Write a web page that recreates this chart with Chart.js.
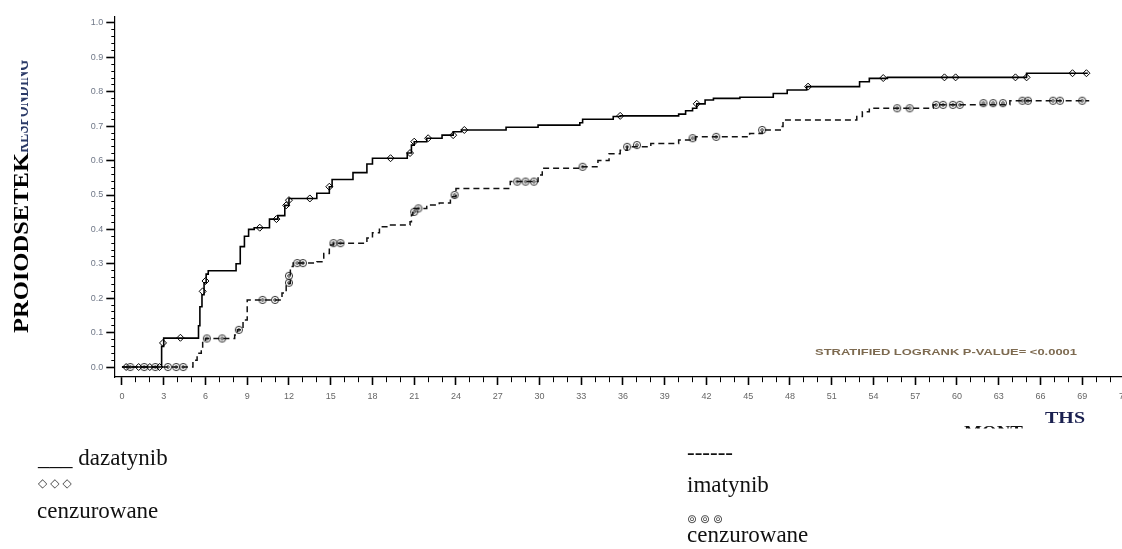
<!DOCTYPE html>
<html><head><meta charset="utf-8">
<script src="https://cdn.jsdelivr.net/npm/chart.js@4.4.0/dist/chart.umd.min.js"></script>
<style>
html,body{margin:0;padding:0;background:#fff;overflow:hidden;width:1122px;height:549px;}
#wrap{position:absolute;left:0;top:0;width:1150px;height:549px;}
.lg{position:absolute;font-family:"Liberation Serif","Times New Roman",serif;font-size:23px;color:#111;white-space:nowrap;line-height:1;}
.sym{position:absolute;font-family:"DejaVu Sans",sans-serif;font-size:12px;color:#444;letter-spacing:3px;white-space:nowrap;line-height:1;}
</style></head><body>
<div id="wrap"><canvas id="c" width="1150" height="549"></canvas></div>
<div class="lg" style="left:38px;top:446px">___ dazatynib</div>
<div class="sym" style="left:38px;top:477px">◇◇◇</div>
<div class="lg" style="left:37px;top:499px">cenzurowane</div>
<div class="lg" style="left:687px;top:441px">------</div>
<div class="lg" style="left:687px;top:473px">imatynib</div>
<div class="sym" style="left:687px;top:513px">⊚⊚⊚</div>
<div class="lg" style="left:687px;top:523px">cenzurowane</div>
<script>
// ---- data ----
const dazaT = [0, 2.85, 3.0, 5.5, 5.6, 5.75, 5.9, 6.05, 6.2, 8.2, 8.5, 8.8, 9.1, 9.5, 10.6, 11.2, 11.7, 12.0, 14.0, 14.9, 15.1, 16.6, 17.6, 18.0, 20.5, 20.8, 21.0, 21.9, 23.0, 23.8, 24.4, 27.6, 29.9, 32.9, 33.1, 35.3, 35.8, 40.0, 40.5, 41.0, 41.3, 41.9, 42.5, 44.4, 46.8, 47.8, 49.2, 53.0, 53.7, 55.0, 65.0, 69.4];
const dazaS = [0, 0.06, 0.084, 0.12, 0.175, 0.21, 0.245, 0.27, 0.28, 0.30, 0.35, 0.38, 0.40, 0.405, 0.43, 0.44, 0.47, 0.49, 0.505, 0.524, 0.545, 0.565, 0.59, 0.607, 0.622, 0.645, 0.655, 0.665, 0.674, 0.684, 0.689, 0.697, 0.703, 0.710, 0.72, 0.728, 0.73, 0.735, 0.745, 0.752, 0.765, 0.776, 0.781, 0.784, 0.795, 0.805, 0.815, 0.829, 0.839, 0.842, 0.854, 0.854];
const imaT = [0, 5.1, 5.4, 5.7, 5.8, 6.0, 8.1, 8.3, 8.7, 9.0, 11.5, 11.8, 12.1, 12.3, 14.0, 14.5, 14.9, 15.2, 17.6, 18.0, 18.5, 19.3, 20.7, 20.8, 20.9, 21.9, 22.8, 23.6, 24.0, 27.9, 29.9, 30.2, 33.0, 34.2, 35.0, 35.8, 36.3, 38.0, 40.0, 41.2, 45.1, 46.0, 47.3, 47.5, 52.8, 53.2, 53.7, 58.3, 63.8, 69.5];
const imaS = [0, 0.02, 0.04, 0.05, 0.078, 0.083, 0.093, 0.108, 0.137, 0.195, 0.215, 0.243, 0.292, 0.302, 0.306, 0.33, 0.355, 0.36, 0.375, 0.39, 0.408, 0.413, 0.422, 0.442, 0.461, 0.471, 0.477, 0.495, 0.519, 0.539, 0.558, 0.578, 0.582, 0.60, 0.62, 0.63, 0.64, 0.65, 0.66, 0.669, 0.679, 0.689, 0.699, 0.718, 0.728, 0.742, 0.752, 0.762, 0.774, 0.774];
const dazaCensT = [0.3, 1.2, 2.0, 2.7, 2.95, 4.2, 5.8, 6.0, 9.9, 11.1, 11.8, 12.0, 13.5, 14.9, 19.3, 20.7, 21.0, 22.0, 23.8, 24.6, 35.8, 41.3, 49.3, 54.7, 59.1, 59.9, 64.2, 65.0, 68.3, 69.3];
const dazaCensS = [0, 0, 0, 0, 0.07, 0.085, 0.22, 0.25, 0.405, 0.43, 0.47, 0.485, 0.49, 0.524, 0.607, 0.622, 0.655, 0.665, 0.674, 0.689, 0.73, 0.765, 0.815, 0.84, 0.842, 0.842, 0.842, 0.842, 0.854, 0.854];
const imaCensT = [0.6, 1.6, 2.4, 3.3, 3.9, 4.4, 6.1, 7.2, 8.4, 10.1, 11.0, 12.0, 12.0, 12.6, 13.0, 15.2, 15.7, 21.0, 21.3, 23.9, 28.4, 29.0, 29.6, 33.1, 36.3, 37.0, 41.0, 42.7, 46.0, 55.7, 56.6, 58.5, 59.0, 59.7, 60.2, 61.9, 62.6, 63.3, 64.7, 65.1, 66.9, 67.4, 69.0];
const imaCensS = [0, 0, 0, 0, 0, 0, 0.083, 0.083, 0.108, 0.195, 0.195, 0.245, 0.265, 0.302, 0.302, 0.36, 0.36, 0.451, 0.461, 0.5, 0.539, 0.539, 0.539, 0.582, 0.64, 0.645, 0.665, 0.669, 0.689, 0.752, 0.752, 0.762, 0.762, 0.762, 0.762, 0.767, 0.767, 0.767, 0.774, 0.774, 0.774, 0.774, 0.774];
const xTickLabels = [0, 3, 6, 9, 12, 15, 18, 21, 24, 27, 30, 33, 36, 39, 42, 45, 48, 51, 54, 57, 60, 63, 66, 69, 72];
const yTickLabels = [0.0, 0.1, 0.2, 0.3, 0.4, 0.5, 0.6, 0.7, 0.8, 0.9, 1.0];
const pText = "STRATIFIED LOGRANK P-VALUE= <0.0001";
const yTitle = "PROIODSETEK";
const yTitleHidden = "RESPONDING";
const xTitle = "THS";
const xTitleHidden = "- MONT";

// ---- helpers ----
const pts = (t, s) => t.map((v, i) => ({x: v, y: s[i]}));
const xMinor = []; for (let m = 0; m <= 72; m++) xMinor.push(m);
const yMinor = []; for (let k = 0; k <= 50; k++) yMinor.push(Math.round(k * 2) / 100);
const isMajX = v => xTickLabels.includes(v);
const isMajY = v => yTickLabels.some(l => Math.abs(l - v) < 1e-6);

function ring() {
  const c = document.createElement('canvas'); c.width = 10; c.height = 10;
  const g = c.getContext('2d'); g.strokeStyle = '#1a1a1a'; g.lineWidth = 0.9;
  g.beginPath(); g.arc(5, 5, 3.6, 0, 2 * Math.PI); g.stroke();
  g.beginPath(); g.arc(5, 5, 1.3, 0, 2 * Math.PI); g.stroke();
  return c;
}

function fitText(ctx, text, x, y, w, font, color) {
  ctx.save(); ctx.font = font; ctx.fillStyle = color; ctx.textBaseline = 'middle';
  const m = ctx.measureText(text).width;
  ctx.translate(x, y); ctx.scale(w / m, 1); ctx.fillText(text, 0, 0); ctx.restore();
}

const textPlugin = {
  id: 'texts',
  afterDraw(chart) {
    const ctx = chart.ctx;
    fitText(ctx, pText, 815, 352.5, 262, 'bold 9px "Liberation Sans"', '#7d6a50');
    // y title
    ctx.save();
    ctx.translate(22, 333); ctx.rotate(-Math.PI / 2);
    ctx.font = 'bold 22px "Liberation Serif"'; ctx.fillStyle = '#000'; ctx.textBaseline = 'middle';
    let m = ctx.measureText(yTitle).width;
    ctx.save(); ctx.scale(180 / m, 1); ctx.fillText(yTitle, 0, 0); ctx.restore();
    ctx.restore();
    ctx.save();
    ctx.beginPath(); ctx.rect(21, 50, 8, 105); ctx.clip();
    ctx.translate(22, 153); ctx.rotate(-Math.PI / 2);
    ctx.font = 'bold 22px "Liberation Serif"'; ctx.fillStyle = '#2b3a67'; ctx.textBaseline = 'middle';
    m = ctx.measureText(yTitleHidden).width;
    ctx.scale(93 / m, 1); ctx.fillText(yTitleHidden, 0, 0);
    ctx.restore();
    // x title
    ctx.save();
    ctx.font = 'bold 17px "Liberation Serif"'; ctx.fillStyle = '#1a2050'; ctx.textBaseline = 'alphabetic';
    m = ctx.measureText(xTitle).width;
    ctx.translate(1045, 423); ctx.scale(40 / m, 1); ctx.fillText(xTitle, 0, 0);
    ctx.restore();
    ctx.save();
    ctx.beginPath(); ctx.rect(940, 425, 90, 3.5); ctx.clip();
    ctx.font = 'bold 17px "Liberation Serif"'; ctx.fillStyle = '#111'; ctx.textBaseline = 'alphabetic';
    m = ctx.measureText(xTitleHidden).width;
    ctx.translate(953, 437); ctx.scale(70 / m, 1); ctx.fillText(xTitleHidden, 0, 0);
    ctx.restore();
  }
};

new Chart(document.getElementById('c'), {
  type: 'line',
  data: {
    datasets: [
      {label: 'dazatynib', data: pts(dazaT, dazaS), stepped: true, borderColor: '#000', borderWidth: 1.6, pointRadius: 0, fill: false},
      {label: 'imatynib', data: pts(imaT, imaS), stepped: true, borderColor: '#111', borderWidth: 1.5, borderDash: [6, 4], pointRadius: 0, fill: false},
      {label: 'dazatynib cenzurowane', data: pts(dazaCensT, dazaCensS), showLine: false, pointStyle: 'rectRot', pointRadius: 3.5, borderColor: '#000', borderWidth: 1, backgroundColor: 'rgba(255,255,255,0)'},
      {label: 'imatynib cenzurowane', data: pts(imaCensT, imaCensS), showLine: false, pointStyle: ring(), pointRadius: 4, borderColor: '#222', backgroundColor: 'rgba(255,255,255,0)'}
    ]
  },
  options: {
    responsive: false, animation: false,
    layout: {padding: {left: 0, right: 26, top: 17, bottom: 132}},
    plugins: {legend: {display: false}, tooltip: {enabled: false}},
    scales: {
      x: {
        type: 'linear', min: -0.55, max: 72,
        afterBuildTicks: s => { s.ticks = xMinor.map(v => ({value: v})); },
        afterFit: s => { s.height = 40; },
        border: {display: true, color: '#000', width: 1.2},
        grid: {drawOnChartArea: false, drawTicks: true, tickLength: 8, tickColor: '#000',
          tickWidth: c => isMajX(c.tick.value) ? 1.6 : 1,
          tickBorderDash: c => isMajX(c.tick.value) ? [] : [5, 30]},
        ticks: {autoSkip: false, maxRotation: 0, padding: 6, color: '#666',
          font: {family: 'Liberation Sans', size: 9},
          callback: v => isMajX(v) ? String(v) : ''}
      },
      y: {
        type: 'linear', min: -0.029, max: 1.0174,
        afterBuildTicks: s => { s.ticks = yMinor.map(v => ({value: v})); },
        afterFit: s => { s.width = 114.3; },
        border: {display: true, color: '#000', width: 1.2},
        grid: {drawOnChartArea: false, drawTicks: true, tickLength: 8, tickColor: '#000',
          tickWidth: c => isMajY(c.tick.value) ? 1.6 : 1,
          tickBorderDash: c => isMajY(c.tick.value) ? [] : [0, 5, 3, 50]},
        ticks: {autoSkip: false, padding: 3, color: '#707888',
          font: {family: 'Liberation Sans', size: 9},
          callback: v => isMajY(v) ? v.toFixed(1) : ''}
      }
    }
  },
  plugins: [textPlugin]
});
</script>
</body></html>
